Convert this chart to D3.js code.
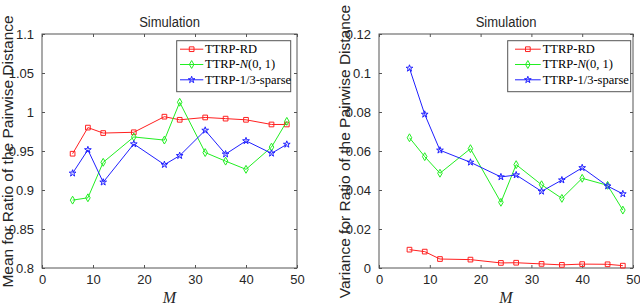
<!DOCTYPE html>
<html>
<head>
<meta charset="utf-8">
<script src="https://cdn.jsdelivr.net/npm/d3@7"></script>
<style>
  body { margin: 0; background: #fff; }
  svg { display: block; }
</style>
</head>
<body>
<svg id="fig" width="640" height="307"></svg>
<script>
// values
const mValues = [6, 9, 12, 18, 24, 27, 32, 36, 40, 45, 48];
const meanRD     = [0.9465, 0.980, 0.973, 0.974, 0.994, 0.990, 0.993, 0.9915, 0.990, 0.984, 0.984];
const meanGauss  = [0.887, 0.890, 0.9355, 0.968, 0.964, 1.0125, 0.948, 0.937, 0.9265, 0.955, 0.988];
const meanSparse = [0.9215, 0.9515, 0.910, 0.959, 0.9325, 0.944, 0.9765, 0.946, 0.963, 0.947, 0.9585];
const varRD      = [0.0094, 0.0084, 0.0046, 0.0043, 0.0026, 0.0027, 0.0021, 0.0016, 0.0020, 0.0019, 0.0012];
const varGauss   = [0.0668, 0.0571, 0.0486, 0.0612, 0.0337, 0.0530, 0.0427, 0.0357, 0.0460, 0.0424, 0.0297];
const varSparse  = [0.1024, 0.0788, 0.0604, 0.0542, 0.0467, 0.0477, 0.0393, 0.0451, 0.0514, 0.0420, 0.0380];
const xTicks = [0, 10, 20, 30, 40, 50];
const meanTicks = [0.8, 0.85, 0.9, 0.95, 1, 1.05, 1.1];
const varTicks = [0, 0.02, 0.04, 0.06, 0.08, 0.1, 0.12];
const seriesNames = ["RD", "N", "sparse"];

const colors = { RD: "#ff2020", N: "#22ee22", sparse: "#2020ff" };
const shapes = {
  RD: d3.symbol(d3.symbolSquare, 22),
  N: d3.symbol(d3.symbolDiamond, 18),
  sparse: d3.symbol(d3.symbolStar, 14)
};

const svg = d3.select("#fig");
const axisColor = "#555";
const textColor = "#262626";

function drawChart(opt) {
  const x = d3.scaleLinear().domain([0, 50]).range([opt.left, opt.right]);
  const y = d3.scaleLinear().domain(opt.yDomain).range([268, 34]);
  const g = svg.append("g");

  const styleAxis = sel => {
    sel.select(".domain").remove();
    sel.selectAll(".tick line").attr("stroke", axisColor);
    sel.selectAll(".tick text")
      .attr("fill", textColor)
      .style("font-family", "'Liberation Sans', Arial, sans-serif")
      .style("font-size", "13px");
  };

  g.append("g").attr("transform", `translate(0,${y.range()[0]})`)
    .call(d3.axisBottom(x).tickValues(xTicks).tickSizeInner(-3).tickSizeOuter(0).tickPadding(7))
    .call(styleAxis);
  g.append("g").attr("transform", `translate(0,${y.range()[1]})`)
    .call(d3.axisTop(x).tickValues(xTicks).tickSizeInner(-3).tickSizeOuter(0).tickFormat(""))
    .call(styleAxis);
  g.append("g").attr("transform", `translate(${opt.left},0)`)
    .call(d3.axisLeft(y).tickValues(opt.yTicks).tickSizeInner(-3).tickSizeOuter(0).tickPadding(8).tickFormat(d => String(d)))
    .call(styleAxis);
  g.append("g").attr("transform", `translate(${opt.right},0)`)
    .call(d3.axisRight(y).tickValues(opt.yTicks).tickSizeInner(-3).tickSizeOuter(0).tickFormat(""))
    .call(styleAxis);

  g.append("rect")
    .attr("x", opt.left).attr("y", 34)
    .attr("width", opt.right - opt.left).attr("height", 234)
    .attr("fill", "none").attr("stroke", axisColor).attr("stroke-width", 1);

  const line = d3.line().x((d, i) => x(mValues[i])).y(d => y(d));
  opt.series.forEach((vals, k) => {
    const key = seriesNames[k];
    g.append("path").datum(vals)
      .attr("d", line)
      .attr("fill", "none")
      .attr("stroke", colors[key])
      .attr("stroke-width", 1);
    g.selectAll(null).data(vals).join("path")
      .attr("transform", (d, i) => `translate(${x(mValues[i])},${y(d)})`)
      .attr("d", shapes[key])
      .attr("fill", "none")
      .attr("stroke", colors[key])
      .attr("stroke-width", 1);
  });

  // title
  const cx = (opt.left + opt.right) / 2;
  g.append("text")
    .attr("transform", `translate(${cx},26.5) scale(0.84,1)`)
    .attr("text-anchor", "middle")
    .attr("fill", textColor)
    .style("font-family", "'Liberation Sans', Arial, sans-serif")
    .style("font-size", "15.5px")
    .text("Simulation");

  // y label
  g.append("text")
    .attr("transform", `translate(${opt.yLabelX},151.5) rotate(-90)`)
    .attr("text-anchor", "middle")
    .attr("fill", textColor)
    .style("font-family", "'Liberation Sans', Arial, sans-serif")
    .style("font-size", "15.5px")
    .text(opt.yLabel);

  // x label
  g.append("text")
    .attr("x", cx).attr("y", 303)
    .attr("text-anchor", "middle")
    .attr("fill", textColor)
    .style("font-family", "'Liberation Serif', 'DejaVu Serif', serif")
    .style("font-style", "italic")
    .style("font-size", "16px")
    .text("M");

  // legend
  const lg = g.append("g").attr("transform", `translate(${opt.legX},40.7)`);
  lg.append("rect")
    .attr("width", opt.legW).attr("height", 51)
    .attr("fill", "#fff").attr("stroke", axisColor).attr("stroke-width", 1);
  const rows = [
    { key: "RD", parts: [["TTRP-RD", "normal"]] },
    { key: "N", parts: [["TTRP-", "normal"], ["N", "italic"], ["(0, 1)", "normal"]] },
    { key: "sparse", parts: [["TTRP-1/3-sparse", "normal"]] }
  ];
  rows.forEach((r, i) => {
    const cy = 8.5 + i * 15.3;
    lg.append("line")
      .attr("x1", opt.legLine[0]).attr("x2", opt.legLine[1])
      .attr("y1", cy).attr("y2", cy)
      .attr("stroke", colors[r.key]).attr("stroke-width", 1);
    lg.append("path")
      .attr("transform", `translate(${(opt.legLine[0] + opt.legLine[1]) / 2},${cy})`)
      .attr("d", shapes[r.key])
      .attr("fill", "none").attr("stroke", colors[r.key]).attr("stroke-width", 1);
    const t = lg.append("text")
      .attr("x", opt.legText).attr("y", cy + 4)
      .attr("fill", "#000")
      .style("font-family", "'Liberation Serif', 'DejaVu Serif', serif")
      .style("font-size", "12.5px");
    r.parts.forEach(p => t.append("tspan").style("font-style", p[1]).text(p[0]));
  });
}

drawChart({
  left: 42, right: 297, yDomain: [0.8, 1.1], yTicks: meanTicks,
  series: [meanRD, meanGauss, meanSparse],
  yLabel: "Mean for Ratio of the Pairwise Distance", yLabelX: 13,
  legX: 176.7, legW: 114, legLine: [3.3, 26.6], legText: 28.3
});
drawChart({
  left: 379, right: 633, yDomain: [0, 0.12], yTicks: varTicks,
  series: [varRD, varGauss, varSparse],
  yLabel: "Variance for Ratio of the Pairwise Distance", yLabelX: 350,
  legX: 507.7, legW: 123, legLine: [7.3, 33], legText: 35
});
</script>
</body>
</html>
